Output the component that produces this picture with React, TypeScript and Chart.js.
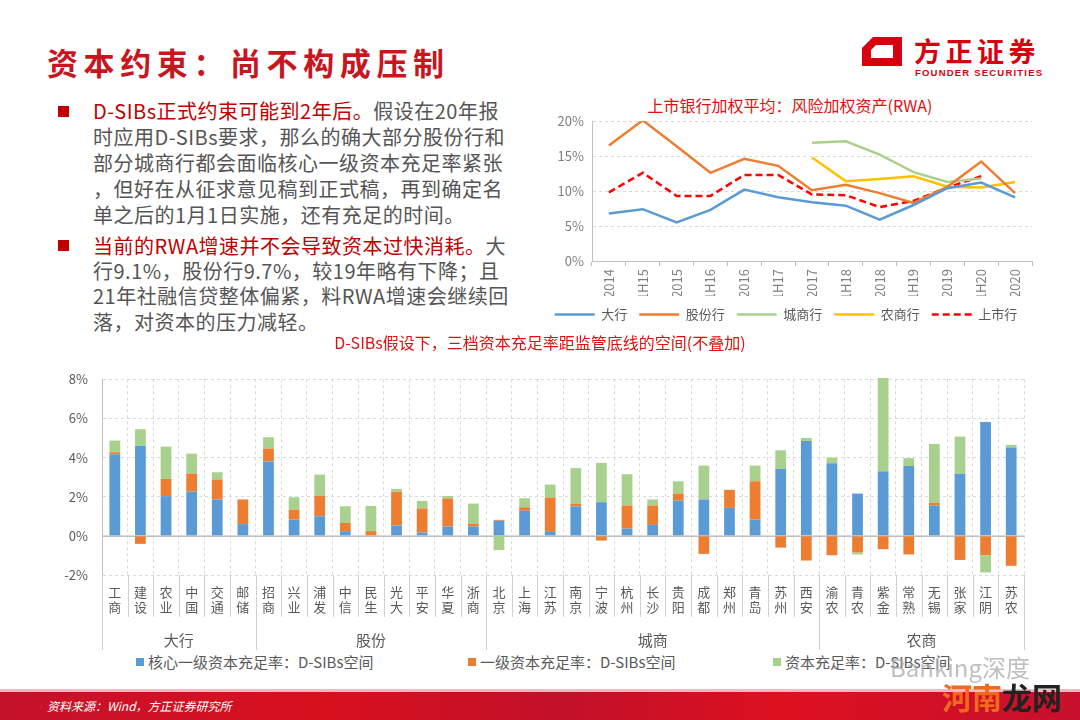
import React, { useEffect, useRef } from 'react';
import { Chart, registerables } from 'chart.js';

Chart.register(...registerables);

const FONT = "'Noto Sans CJK SC', 'Noto Sans', sans-serif";

// ---- Line chart data (RWA growth, %) ----
const periods = ['2014', '1H15', '2015', '1H16', '2016', '1H17', '2017', '1H18', '2018', '1H19', '2019', '1H20', '2020'];
const bigBanks = [6.8, 7.4, 5.5, 7.3, 10.2, 9.1, 8.4, 7.9, 5.9, 8.0, 10.4, 11.2, 9.1];
const jointStock = [16.5, 20.1, 16.4, 12.6, 14.6, 13.6, 10.1, 10.9, 9.7, 8.3, 10.6, 14.2, 9.7];
const cityBanks = [null, null, null, null, null, null, 16.9, 17.1, 15.2, 12.7, 11.3, 11.8, null];
const ruralBanks = [null, null, null, null, null, null, 14.8, 11.4, 11.7, 12.1, 10.6, 10.5, 11.3];
const listedBanks = [9.8, 12.6, 9.3, 9.3, 12.3, 12.3, 9.5, 9.4, 7.7, 8.6, 10.5, 12.1, null];
const lineNames = ['大行', '股份行', '城商行', '农商行', '上市行'];
const lineTicks = [0, 5, 10, 15, 20];

// ---- Bar chart data (D-SIBs buffer, %) ----
const banks = ['工商', '建设', '农业', '中国', '交通', '邮储', '招商', '兴业', '浦发', '中信', '民生', '光大', '平安', '华夏', '浙商', '北京', '上海', '江苏', '南京', '宁波', '杭州', '长沙', '贵阳', '成都', '郑州', '青岛', '苏州', '西安', '渝农', '青农', '紫金', '常熟', '无锡', '张家', '江阴', '苏农'];
const groupNames = ['大行', '股份', '城商', '农商'];
const groupSizes = [6, 9, 13, 8];
const coreGap = [4.17, 4.61, 2.03, 2.26, 1.86, 0.6, 3.8, 0.83, 1.0, 0.24, 0.0, 0.53, 0.17, 0.48, 0.48, 0.77, 1.28, 0.2, 1.5, 1.72, 0.37, 0.56, 1.8, 1.86, 1.43, 0.83, 3.42, 4.85, 3.71, 2.16, 3.3, 3.57, 1.55, 3.17, 5.82, 4.51];
const tier1Gap = [0.1, -0.41, 0.88, 0.92, 1.02, 1.26, 0.66, 0.51, 1.04, 0.42, 0.24, 1.72, 1.23, 1.43, 0.13, 0.05, 0.18, 1.76, 0.13, -0.24, 1.18, 0.99, 0.36, -0.92, 0.92, 1.96, -0.6, -1.26, -0.99, -0.85, -0.68, -0.95, 0.14, -1.23, -0.99, -1.53];
const totalGap = [0.6, 0.84, 1.65, 1.02, 0.37, 0, 0.58, 0.63, 1.09, 0.85, 1.29, 0.15, 0.39, 0.13, 1.04, -0.73, 0.46, 0.66, 1.83, 2.01, 1.6, 0.31, 0.63, 1.73, 0, 0.8, 0.95, 0.15, 0.29, -0.1, 4.77, 0.4, 3.01, 1.9, -0.88, 0.14];
const barNames = ['核心一级资本充足率：D-SIBs空间', '一级资本充足率：D-SIBs空间', '资本充足率：D-SIBs空间'];
const barTicks = [-2, 0, 2, 4, 6, 8];

const BLUE = '#5B9BD5';
const ORANGE = '#ED7D31';
const GREEN = '#A9D18E';
const YELLOW = '#FFC000';
const RED = '#FF0000';
const barColors = [BLUE, ORANGE, GREEN];

function RwaChart() {
  const ref = useRef<HTMLCanvasElement>(null);
  useEffect(() => {
    const series = [bigBanks, jointStock, cityBanks, ruralBanks, listedBanks];
    const colors = [BLUE, ORANGE, GREEN, YELLOW, RED];
    const chart = new Chart(ref.current as HTMLCanvasElement, {
      type: 'line',
      data: {
        labels: periods,
        datasets: series.map((d, i) => ({
          label: lineNames[i],
          data: d,
          borderColor: colors[i],
          backgroundColor: colors[i],
          borderWidth: 2.5,
          borderDash: i === 4 ? [7, 4] : [],
          pointRadius: 0,
          tension: 0,
          spanGaps: false,
        })),
      },
      options: {
        responsive: false,
        maintainAspectRatio: false,
        animation: false,
        layout: { padding: { top: 11, right: 8, left: 0, bottom: 0 } },
        plugins: {
          tooltip: { enabled: false },
          legend: {
            position: 'bottom',
            labels: {
              usePointStyle: true,
              pointStyle: 'line',
              pointStyleWidth: 40,
              boxWidth: 40,
              padding: 12,
              color: '#595959',
              font: { size: 13, family: FONT },
              generateLabels: (c: any) => {
                const items = Chart.defaults.plugins.legend.labels.generateLabels(c);
                return items.map((it: any) => {
                  const ds: any = c.data.datasets[it.datasetIndex];
                  return { ...it, lineDash: ds.borderDash, lineWidth: 2.5, strokeStyle: ds.borderColor, pointStyle: 'line' };
                });
              },
            },
          },
        },
        scales: {
          x: {
            offset: true,
            grid: { display: true, drawOnChartArea: false, drawTicks: true, tickLength: 5, offset: true, color: '#bfbfbf' },
            border: { display: true, color: '#bfbfbf' },
            ticks: { minRotation: 90, maxRotation: 90, autoSkip: false, padding: 3, color: '#7f7f7f', font: { size: 13, family: FONT } },
            afterFit: (s: any) => { s.height = 35; },
          },
          y: {
            min: 0,
            max: 20,
            afterBuildTicks: (s: any) => { s.ticks = lineTicks.map((v) => ({ value: v })); },
            ticks: { callback: (v: any) => v + '%', padding: 0, color: '#7f7f7f', font: { size: 13, family: FONT } },
            grid: { color: '#d9d9d9', drawTicks: true, tickLength: 8, tickColor: 'rgba(0,0,0,0)' },
            border: { display: true, color: '#bfbfbf', dash: [3, 3] },
            afterFit: (s: any) => { s.width = 52; },
          },
        },
      } as any,
    });
    return () => chart.destroy();
  }, []);
  return <canvas ref={ref} width={500} height={221} style={{ position: 'absolute', left: 540, top: 110, width: 500, height: 221 }} />;
}

const groupPlugin = {
  id: 'groupLabels',
  beforeDatasetsDraw(chart: any) {
    const { ctx, scales: { x, y } } = chart;
    const py = Math.round(y.getPixelForValue(0)) + 0.5;
    ctx.save();
    ctx.strokeStyle = '#bfbfbf';
    ctx.lineWidth = 1;
    ctx.beginPath();
    ctx.moveTo(x.left, py);
    ctx.lineTo(x.right, py);
    ctx.stroke();
    ctx.restore();
  },
  afterDraw(chart: any) {
    const { ctx, scales: { x, y } } = chart;
    const bottom = y.bottom;
    const bounds = new Set<number>([0]);
    let acc = 0;
    groupSizes.forEach((n) => { acc += n; bounds.add(acc); });
    ctx.save();
    ctx.strokeStyle = '#d0d0d0';
    ctx.lineWidth = 1;
    for (let i = 0; i <= banks.length; i++) {
      const px = Math.round(x.getPixelForValue(i - 0.5)) + 0.5;
      const len = bounds.has(i) ? 75 : 42;
      ctx.beginPath();
      ctx.moveTo(px, bottom);
      ctx.lineTo(px, bottom + len);
      ctx.stroke();
    }
    ctx.fillStyle = '#595959';
    ctx.font = `15px ${FONT}`;
    ctx.textAlign = 'center';
    ctx.textBaseline = 'middle';
    let s = 0;
    groupSizes.forEach((n, gi) => {
      const cx = (x.getPixelForValue(s - 0.5) + x.getPixelForValue(s + n - 0.5)) / 2;
      ctx.fillText(groupNames[gi], cx, bottom + 65);
      s += n;
    });
    ctx.restore();
  },
};

function BufferChart() {
  const ref = useRef<HTMLCanvasElement>(null);
  useEffect(() => {
    const series = [coreGap, tier1Gap, totalGap];
    const chart = new Chart(ref.current as HTMLCanvasElement, {
      type: 'bar',
      data: {
        labels: banks.map((b) => b.split('')),
        datasets: series.map((d, i) => ({
          label: barNames[i],
          data: d,
          backgroundColor: barColors[i],
          borderWidth: 0,
          categoryPercentage: 1,
          barPercentage: 0.42,
          clip: false,
        })),
      },
      options: {
        responsive: false,
        maintainAspectRatio: false,
        animation: false,
        layout: { padding: { top: 14.3, right: 16, left: 0, bottom: 0 } },
        plugins: { legend: { display: false }, tooltip: { enabled: false } },
        scales: {
          x: {
            stacked: true,
            grid: { color: '#d9d9d9', offset: true, drawTicks: false },
            border: { display: false, dash: [3, 3] },
            ticks: { autoSkip: false, maxRotation: 0, minRotation: 0, padding: 10, color: '#595959', font: { size: 13, family: FONT, lineHeight: 1.15 } },
            afterFit: (s: any) => { s.height = 75; },
          },
          y: {
            stacked: true,
            min: -2,
            max: 8,
            afterBuildTicks: (s: any) => { s.ticks = barTicks.map((v) => ({ value: v })); },
            ticks: { callback: (v: any) => v + '%', padding: 0, color: '#595959', font: { size: 13, family: FONT } },
            grid: { color: '#d9d9d9', drawTicks: true, tickLength: 14, tickColor: 'rgba(0,0,0,0)' },
            border: { display: true, color: '#bfbfbf', dash: (ctx: any) => (ctx.tick && ctx.tick.value === 0 ? [] : [3, 3]) },
            afterFit: (s: any) => { s.width = 62; },
          },
        },
      } as any,
      plugins: [groupPlugin],
    });
    return () => chart.destroy();
  }, []);
  return <canvas ref={ref} width={1000} height={285} style={{ position: 'absolute', left: 40, top: 365, width: 1000, height: 285 }} />;
}

const grayText = '#555555';
const redText = '#C00000';

const para1: [string, string][] = [
  ['D-SIBs正式约束可能到2年后。', '假设在20年报'],
  ['', '时应用D-SIBs要求，那么的确大部分股份行和'],
  ['', '部分城商行都会面临核心一级资本充足率紧张'],
  ['', '，但好在从征求意见稿到正式稿，再到确定名'],
  ['', '单之后的1月1日实施，还有充足的时间。'],
];
const para2: [string, string][] = [
  ['当前的RWA增速并不会导致资本过快消耗。', '大'],
  ['', '行9.1%，股份行9.7%，较19年略有下降；且'],
  ['', '21年社融信贷整体偏紧，料RWA增速会继续回'],
  ['', '落，对资本的压力减轻。'],
];

function Paragraph({ lines, top, lh }: { lines: [string, string][]; top: number; lh: number }) {
  return (
    <>
      <div style={{ position: 'absolute', left: 58, top: top + lh / 2 - 5.5, width: 11, height: 11, background: '#C00000' }} />
      <div style={{ position: 'absolute', left: 93, top, fontSize: 20, lineHeight: `${lh}px`, letterSpacing: 0.5, whiteSpace: 'nowrap' }}>
        {lines.map((l, i) => (
          <div key={i}>
            <span style={{ color: redText }}>{l[0]}</span>
            <span style={{ color: grayText }}>{l[1]}</span>
          </div>
        ))}
      </div>
    </>
  );
}

export default function App() {
  return (
    <div style={{ position: 'fixed', left: 0, top: 0, width: 1080, height: 720, background: '#fff', overflow: 'hidden', fontFamily: FONT }}>
      <div style={{ position: 'absolute', left: 47, top: 43, height: 38, lineHeight: '38px', fontSize: 31, fontWeight: 700, letterSpacing: 5.6, color: '#C8161E', whiteSpace: 'nowrap' }}>
        资本约束：尚不构成压制
      </div>

      {/* logo */}
      <svg style={{ position: 'absolute', left: 862, top: 37 }} width={42} height={30} viewBox="0 0 42 30">
        <polygon points="11,0 40,0 40,29 0,29 0,11" fill="#D7000F" />
        <polygon points="14,8 31,8 31,21 9,21 9,13" fill="#fff" />
      </svg>
      <div style={{ position: 'absolute', left: 914, top: 33, fontSize: 27, fontWeight: 700, letterSpacing: 4.5, color: '#D7000F', lineHeight: '36px', whiteSpace: 'nowrap' }}>方正证券</div>
      <div style={{ position: 'absolute', left: 915, top: 67, fontSize: 9.5, fontWeight: 700, letterSpacing: 1.2, color: '#D7000F', lineHeight: '12px', fontFamily: "'Liberation Sans', sans-serif", whiteSpace: 'nowrap' }}>FOUNDER SECURITIES</div>

      <Paragraph lines={para1} top={98.4} lh={25.8} />
      <Paragraph lines={para2} top={232.8} lh={25.3} />

      <div style={{ position: 'absolute', left: 590, width: 400, top: 94, textAlign: 'center', fontSize: 16, lineHeight: '22px', color: '#E01010', whiteSpace: 'nowrap' }}>
        上市银行加权平均：风险加权资产(RWA)
      </div>
      <RwaChart />

      <div style={{ position: 'absolute', left: 240, width: 600, top: 331, textAlign: 'center', fontSize: 16, lineHeight: '22px', color: '#E01010', whiteSpace: 'nowrap' }}>
        D-SIBs假设下，三档资本充足率距监管底线的空间(不叠加)
      </div>
      <BufferChart />

      {/* bar chart legend */}
      {barNames.map((name, i) => (
        <div key={name} style={{ position: 'absolute', left: [136, 468, 773][i], top: 652, height: 20, display: 'flex', alignItems: 'center', whiteSpace: 'nowrap' }}>
          <div style={{ width: 8, height: 8, background: barColors[i], marginRight: 4 }} />
          <span style={{ fontSize: 15, color: '#595959', lineHeight: '20px' }}>{name}</span>
        </div>
      ))}

      {/* footer */}
      <div style={{ position: 'absolute', left: 0, top: 689, width: 1080, height: 3, background: '#F2B8BE' }} />
      <div style={{ position: 'absolute', left: 0, top: 692, width: 1080, height: 28, background: 'linear-gradient(90deg, #C5122B 0%, #D8101E 30%, #C2112A 52%, #DC101F 72%, #C8102E 100%)' }} />
      <div style={{ position: 'absolute', left: 47, top: 697, fontSize: 12, fontStyle: 'italic', color: '#fff', lineHeight: '18px', whiteSpace: 'nowrap' }}>资料来源：Wind，方正证券研究所</div>

      {/* watermark */}
      <div style={{ position: 'absolute', left: 890, top: 652, fontSize: 24, color: 'rgba(170,170,170,0.75)', lineHeight: '30px', whiteSpace: 'nowrap' }}>Banking深度</div>
      <div style={{ position: 'absolute', left: 942, top: 678, fontSize: 30, fontWeight: 700, lineHeight: '36px', whiteSpace: 'nowrap' }}>
        <span style={{ color: '#F06A1E' }}>河南</span>
        <span style={{ color: '#222' }}>龙网</span>
      </div>
    </div>
  );
}
